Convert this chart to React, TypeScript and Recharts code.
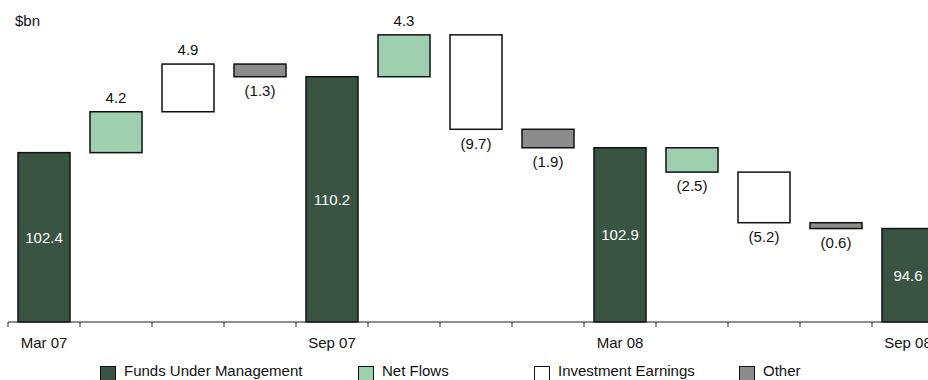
import { BarChart, Bar, XAxis, YAxis } from "recharts";

// $bn, half-yearly funds under management and the movements between them
const periods = ["Mar 07", "Sep 07", "Mar 08", "Sep 08"];
const fundsUnderManagement = [102.4, 110.2, 102.9, 94.6];
const netFlows = [4.2, 4.3, -2.5];
const investmentEarnings = [4.9, -9.7, -5.2];
const other = [-1.3, -1.9, -0.6];

const legendLabels = ["Funds Under Management", "Net Flows", "Investment Earnings", "Other"];

const colors: Record<string, string> = {
  fum: "#3a5444",
  flows: "#9ed0b0",
  earnings: "#ffffff",
  other: "#8c8c8c",
};
const legendKinds = ["fum", "flows", "earnings", "other"];
const legendLeft = [100, 358, 534, 739];

const font = "'Liberation Sans', Arial, sans-serif";

type Row = {
  key: string;
  pos: number;
  tick: string;
  kind: string;
  value: number | [number, number];
  text: string;
  up: boolean;
};

const fmt = (v: number) => (v < 0 ? `(${Math.abs(v).toFixed(1)})` : v.toFixed(1));

const rows: Row[] = [];
periods.forEach((p, i) => {
  const total = fundsUnderManagement[i];
  rows.push({ key: `t${i}`, pos: 0, tick: p, kind: "fum", value: total, text: total.toFixed(1), up: true });
  if (i < netFlows.length) {
    let level = total;
    const steps: [string, number][] = [
      ["flows", netFlows[i]],
      ["earnings", investmentEarnings[i]],
      ["other", other[i]],
    ];
    steps.forEach(([kind, d]) => {
      const next = level + d;
      rows.push({
        key: `${kind}${i}`,
        pos: 0,
        tick: "",
        kind,
        value: [Math.min(level, next), Math.max(level, next)],
        text: fmt(d),
        up: d >= 0,
      });
      level = next;
    });
  }
});
// slot centre on the 0..n boundary scale
rows.forEach((r, i) => (r.pos = i + 0.5));

const boundaryTicks = rows.map((_, i) => i);

const WaterfallBar = (props: any) => {
  const { x, y, width, height, index } = props;
  const row: Row = rows[index] ?? props.payload;
  const top = Math.min(y, y + height);
  const h = Math.abs(height);
  const cx = x + width / 2;
  let label;
  if (row.kind === "fum") {
    label = (
      <text x={cx} y={top + h / 2} dy="0.35em" textAnchor="middle" fill="#fff" fontSize={15} fontFamily={font}>
        {row.text}
      </text>
    );
  } else {
    const ty = row.up ? top - 14 : top + h + 14;
    label = (
      <text x={cx} y={ty} dy="0.35em" textAnchor="middle" fill="#111" fontSize={15} fontFamily={font}>
        {row.text}
      </text>
    );
  }
  return (
    <g>
      <rect x={x} y={top} width={width} height={h} fill={colors[row.kind]} stroke="#111" strokeWidth={1.5} />
      {label}
    </g>
  );
};

export default function App() {
  return (
    <div
      style={{
        position: "fixed",
        left: 0,
        top: 0,
        width: 928,
        height: 380,
        overflow: "hidden",
        background: "#fff",
        fontFamily: font,
      }}
    >
      <div style={{ position: "absolute", left: 15, top: 12, fontSize: 15, lineHeight: "17px", color: "#111" }}>
        $bn
      </div>
      <BarChart
        width={944}
        height={380}
        data={rows}
        margin={{ top: 30, right: 0, bottom: 0, left: 8 }}
        barSize={52}
      >
        <XAxis
          xAxisId={0}
          dataKey="pos"
          type="number"
          scale="linear"
          domain={[0, rows.length]}
          ticks={boundaryTicks}
          interval={0}
          allowDataOverflow
          height={1}
          tickSize={5}
          tickFormatter={() => ""}
          stroke="#222"
        />
        <XAxis
          xAxisId={1}
          dataKey="key"
          type="category"
          height={57}
          axisLine={false}
          tickLine={false}
          tickSize={0}
          tickMargin={14}
          interval={0}
          tickFormatter={(_v: string, i: number) => rows[i]?.tick ?? ""}
          tick={{ fontSize: 15, fill: "#111", fontFamily: font }}
        />
        <YAxis hide domain={[85, 115]} />
        <Bar xAxisId={1} dataKey="value" isAnimationActive={false} shape={WaterfallBar} />
      </BarChart>
      {legendLabels.map((name, i) => (
        <div
          key={name}
          style={{
            position: "absolute",
            left: legendLeft[i],
            top: 362,
            display: "flex",
            alignItems: "flex-start",
            fontSize: 15,
            lineHeight: "17px",
            color: "#111",
            whiteSpace: "nowrap",
          }}
        >
          <div
            style={{
              width: 14,
              height: 14,
              marginTop: 4,
              marginRight: 8,
              background: colors[legendKinds[i]],
              border: "1.5px solid #111",
            }}
          />
          {name}
        </div>
      ))}
    </div>
  );
}
